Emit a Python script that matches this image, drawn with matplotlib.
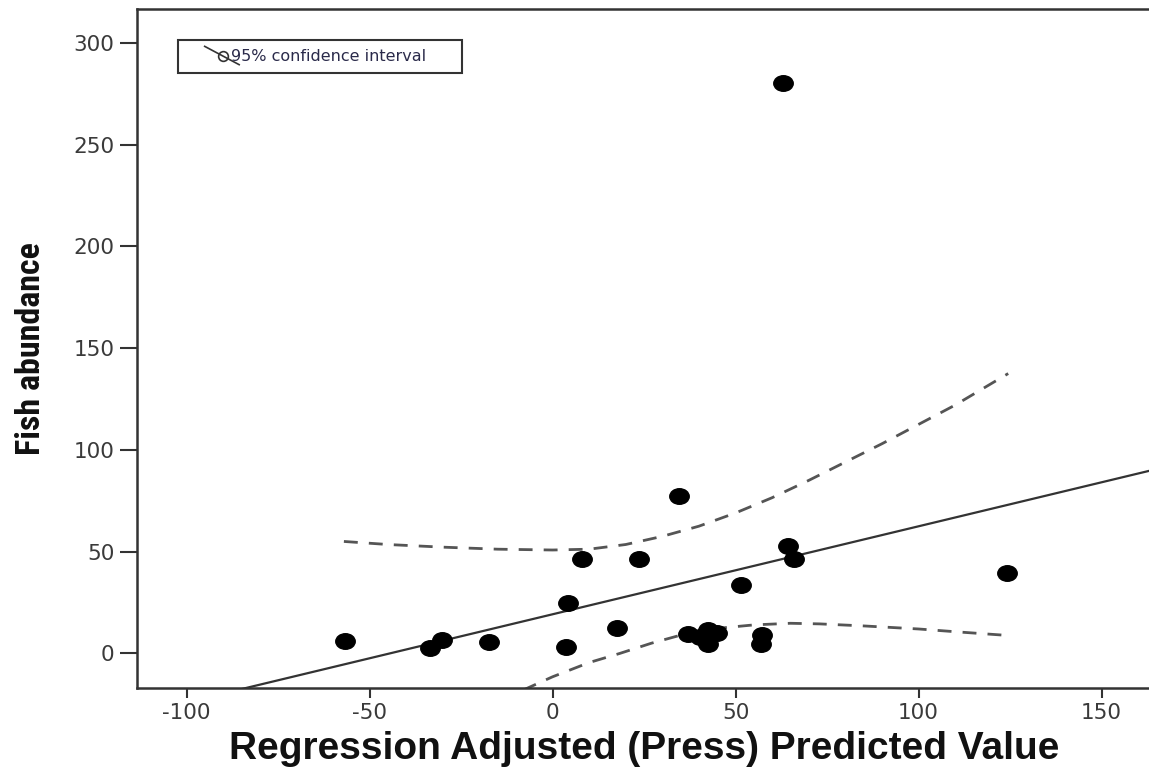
import numpy as np
import matplotlib
matplotlib.use('Agg')
import matplotlib.pyplot as plt
from matplotlib.path import Path
from matplotlib.transforms import Affine2D
from matplotlib.patches import Rectangle
from matplotlib.lines import Line2D

plt.rcParams['axes.unicode_minus'] = False

# Data
pred = [-56.7, -33.5, -30.3, -17.3, 3.7, 4.3, 8.0, 17.5, 23.7, 34.6,
        36.9, 42.6, 44.9, 42.6, 40.3, 51.5, 57.2, 56.9, 64.4, 66.1,
        63.0, 124.2]
fish = [6.2, 2.5, 6.5, 5.7, 3.3, 24.6, 46.2, 12.6, 46.3, 77.3,
        9.5, 11.4, 9.8, 4.6, 8.2, 33.4, 9.0, 4.6, 52.7, 46.3,
        280.2, 39.4]

# fit line
fit_x = [-113.6, 163.5]
fit_y = [-29.9, 89.9]

# 95% confidence band
ci_x = [-57, -45, -30, -15, 0, 10, 20, 30, 40, 50, 60, 70, 80, 90, 100, 110, 124.5]
ci_upper = [55.0, 53.5, 52.2, 51.2, 50.8, 51.2, 53.5, 57.5, 62.5, 69.0, 76.5, 85.0, 94.0, 103.0, 112.5, 122.0, 137.5]
ci_low_x = [-8, 0, 10, 18.4, 27, 36.7, 45, 55, 65, 73, 85, 100, 110.4, 124.5]
ci_lower = [-18.0, -11.5, -4.5, 0.0, 5.0, 9.8, 12.3, 14.0, 14.8, 14.5, 13.5, 12.0, 10.6, 8.8]

xticks = [-100, -50, 0, 50, 100, 150]
yticks = [0, 50, 100, 150, 200, 250, 300]

fig = plt.figure(figsize=(11.49, 7.76), dpi=100)
ax = fig.add_axes([0.119, 0.1134, 0.8827, 0.875])

# squashed dot marker
ell = Path.unit_circle().transformed(Affine2D().scale(1.25, 1.0))

ax.plot(fit_x, fit_y, color='#333333', lw=1.6, zorder=2)
ax.plot(ci_x, ci_upper, color='#555555', lw=2.0, ls=(0, (5, 4)), zorder=2)
ax.plot(ci_low_x, ci_lower, color='#555555', lw=2.0, ls=(0, (5, 4)), zorder=2)
ax.plot(pred, fish, ls='none', marker=ell, ms=14, color='black', zorder=3)

ax.set_xlim(-113.6, 163.5)
ax.set_ylim(-17, 316.6)
ax.set_xticks(xticks)
ax.set_yticks(yticks)

for s in ax.spines.values():
    s.set_linewidth(1.8)
    s.set_color('#333333')

ax.tick_params(axis='y', length=12, width=1.5, color='#333333', pad=4,
               labelsize=15.5, labelcolor='#3a3a3a')
ax.tick_params(axis='x', length=7.5, width=1.5, color='#333333', pad=3,
               labelsize=15.5, labelcolor='#3a3a3a')
for lab in ax.get_xticklabels() + ax.get_yticklabels():
    lab.set_family('DejaVu Sans')

ax.set_xlabel('Regression Adjusted (Press) Predicted Value', fontsize=28,
              fontweight='bold', family=['Liberation Sans'], color='#111111', labelpad=6)
ax.set_ylabel('Fish abundance', fontsize=24.5, fontweight='bold',
              family=['Roboto Condensed', 'Liberation Sans Narrow', 'Liberation Sans'],
              color='#111111', labelpad=19)

# legend box drawn by hand
ax.add_patch(Rectangle((0.0407, 0.906), 0.280, 0.048, transform=ax.transAxes,
                       fill=False, lw=1.5, ec='#333333', zorder=4))
ax.add_line(Line2D([0.067, 0.101], [0.945, 0.918], transform=ax.transAxes,
                   color='#333333', lw=1.2, zorder=5))
ax.plot([0.085], [0.931], transform=ax.transAxes, marker='o', ms=7, mfc='none',
        mec='#333333', mew=1.2, zorder=5)
ax.text(0.093, 0.930, '95% confidence interval', transform=ax.transAxes,
        fontsize=11.5, color='#2a2a4a', va='center', ha='left', zorder=5)

fig.savefig('out.png', dpi=100)
